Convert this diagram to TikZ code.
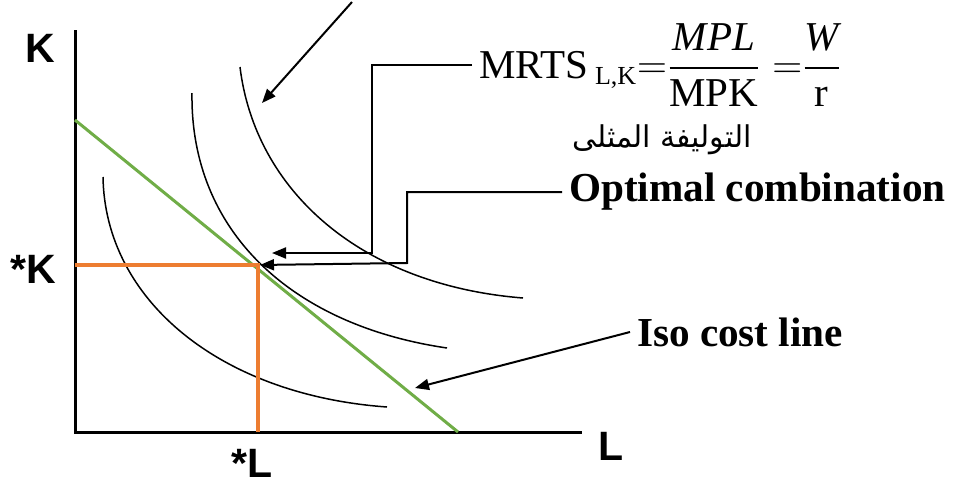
\documentclass[tikz,border=0pt]{standalone}
\usepackage{amsmath}
\usepackage{fontspec}
\setmainfont{Liberation Serif}
\setsansfont{Liberation Sans}
\newfontfamily\arabicfont[Script=Arabic]{DejaVu Sans}
\TeXXeTstate=1
\usetikzlibrary{arrows.meta}
\definecolor{isogreen}{HTML}{70AD47}
\definecolor{optorange}{HTML}{ED7D31}
\newcommand{\labfont}{\sffamily\bfseries\fontsize{20.5}{22}\selectfont}
\newcommand{\notefont}{\bfseries\fontsize{20.6}{22}\selectfont}
\newcommand{\barfrac}[2]{\genfrac{}{}{1.3pt}{0}{#1}{#2}}

\begin{document}
\begin{tikzpicture}[x=0.5pt, y=-0.5pt,
    >={Triangle[length=7pt,width=5.5pt]},
    axislabel/.style={font=\labfont},
    notelabel/.style={font=\notefont, anchor=west},
    isoquant/.style={line width=0.75pt},
    pointer/.style={->, line width=1pt}]
    \useasboundingbox (0,0) rectangle (954,483);

    % Axes
    \draw[line width=1.5pt] (75,30) -- (75,432) -- (582,432);
    \node[axislabel] (kaxis) at (40,48) {K};
    \node[axislabel] (laxis) at (611,446) {L};
    \node[axislabel] (kstar) at (33,269) {*K};
    \node[axislabel] (lstar) at (252,463) {*L};

    % Isoquants
    \draw[isoquant] (103,177) .. controls (105,300) and (220,395) .. (387,407);
    \draw[isoquant] (192,93) .. controls (190,230) and (290,325) .. (447,348);
    \draw[isoquant] (240,67) .. controls (255,190) and (360,285) .. (523,298);

    % Iso cost line
    \draw[isogreen, line width=1.5pt] (75,120) -- (458,432);

    % Optimum
    \coordinate (opt) at (258,265);
    \draw[optorange, line width=1.6pt] (75,265) -- (opt) -- (258,432);

    % Labels
    \node[anchor=west, font=\fontsize{20.5}{22}\selectfont] (mrts) at (472,65)
        {MRTS\,$_{\mbox{\fontsize{13}{13}\selectfont L,K}}{=}\barfrac{\mbox{\itshape MPL}}{\mbox{MPK}}\;{=}\barfrac{\mbox{\itshape W}}{\mbox{r}}$};
    \node[font=\arabicfont\fontsize{15}{18}\selectfont] (arab) at (662,140) {\beginR التوليفة المثلى\endR};
    \node[notelabel] (optlabel) at (562,192) {Optimal combination};
    \node[notelabel] (isolabel) at (630,332) {Iso cost line};

    % Pointers
    \coordinate (topfree) at (352,2);
    \coordinate (toptip) at (262,103);
    \draw[pointer] (topfree) -- (toptip);

    \coordinate (mrtsbend) at (372,253);
    \coordinate (mrtstip) at (272,253);
    \draw[pointer] (mrts.west) -| (mrtsbend) -- (mrtstip);

    \coordinate (optbend) at (407,263);
    \draw[pointer, shorten >=1pt] (optlabel.west) -| (optbend) -- (opt);

    \coordinate (isotip) at (415,388);
    \draw[pointer] (isolabel.west) -- (isotip);
\end{tikzpicture}
\end{document}
